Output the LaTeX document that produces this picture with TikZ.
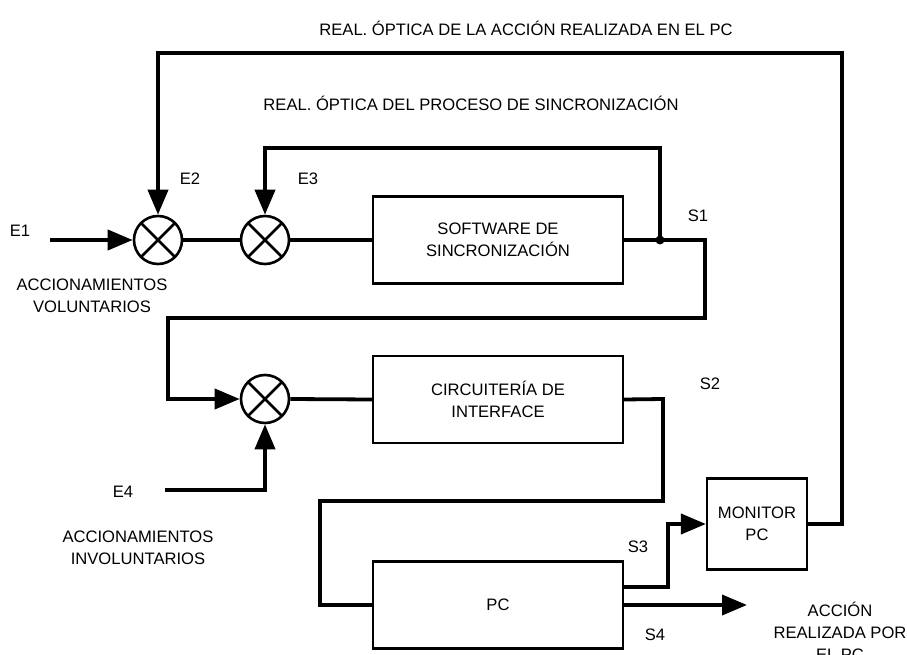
\documentclass[tikz,border=0pt]{standalone}
\usepackage{fontspec}
\setmainfont{Liberation Sans}
\usetikzlibrary{arrows.meta}
\begin{document}
\begin{tikzpicture}[x=1pt,y=-1pt,
  every node/.style={font=\fontsize{16.6}{22}\selectfont},
  lbl/.style={inner sep=0pt, align=center},
  sumc/.style={circle, draw, line width=2.6pt, minimum size=48pt, inner sep=0pt,
    path picture={\draw[line width=2.6pt] (path picture bounding box.north west) -- (path picture bounding box.south east)
      (path picture bounding box.north east) -- (path picture bounding box.south west);}},
  blk/.style={rectangle, draw, line width=2.2pt, minimum width=250pt, minimum height=87pt, align=center, inner sep=0pt},
  wire/.style={line width=3.8pt},
  arr/.style={wire, -{Triangle[length=25pt,width=20pt]}}]
\useasboundingbox (0,0) rectangle (907,655);

% summing junctions
\node[sumc] (s1c) at (158,240) {};
\node[sumc] (s2c) at (265,240) {};
\node[sumc] (s3c) at (265,399) {};

% blocks
\node[blk] (soft) at (498,240) {SOFTWARE DE\\SINCRONIZACIÓN};
\node[blk] (circ) at (498,399.5) {CIRCUITERÍA DE\\INTERFACE};
\node[blk] (pc) at (498,605) {PC};
\node[blk, minimum width=100pt, minimum height=91pt] (mon) at (757,524) {MONITOR\\PC};

% coordinates
\coordinate (e1) at (50,240);
\coordinate (tr) at (842,53);
\coordinate (j) at (660,240);
\coordinate (f3) at (660,148);
\coordinate (s1r) at (705,240);
\coordinate (s1b) at (168,318);
\coordinate (e4) at (165,490);
\coordinate (c2r) at (663,399);
\coordinate (c2b) at (320,501);
\coordinate (s3k) at (668,0);
\coordinate (out) at (747,605);

% connectors
\draw[arr] (e1) -- (s1c.west);
\draw[arr] (mon.east) -| (tr) -| (s1c.north);
\draw[wire] (s1c.east) -- (s2c.west);
\draw[wire] (s2c.east) -- (soft.west);
\draw[arr] (soft.east) -- (s1r) |- (s1b) |- (s3c.west);
\draw[arr] (j) -- (f3) -| (s2c.north);
\fill (j) circle (4.5);
\draw[wire] (s3c.east) -- (circ.west);
\draw[arr] (e4) -| (s3c.south);
\draw[wire] (circ.east) -- (c2r) |- (c2b) |- (pc.west);
\draw[arr] ([yshift=18pt]pc.east) -| (s3k |- mon.west) -- (mon.west);
\draw[arr] (pc.east) -- (out);

% labels
\node[lbl] (t1) at (526,28) {REAL. ÓPTICA DE LA ACCIÓN REALIZADA EN EL PC};
\node[lbl] (t2) at (471,103) {REAL. ÓPTICA DEL PROCESO DE SINCRONIZACIÓN};
\node[lbl] (le1) at (20,231) {E1};
\node[lbl] (le2) at (190,179) {E2};
\node[lbl] (le3) at (308,179) {E3};
\node[lbl] (le4) at (123,492) {E4};
\node[lbl] (lvol) at (92,296) {ACCIONAMIENTOS\\VOLUNTARIOS};
\node[lbl] (linv) at (138,548) {ACCIONAMIENTOS\\INVOLUNTARIOS};
\node[lbl] (ls1) at (698,216) {S1};
\node[lbl] (ls2) at (710,384) {S2};
\node[lbl] (ls3) at (638,547) {S3};
\node[lbl] (ls4) at (655,635) {S4};
\node[lbl] (lacc) at (840,631) {ACCIÓN\\REALIZADA POR\\EL PC};
\end{tikzpicture}
\end{document}
